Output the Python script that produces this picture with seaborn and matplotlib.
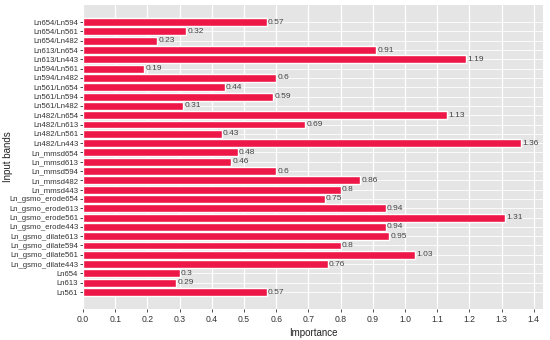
import matplotlib
matplotlib.use("Agg")
import matplotlib.pyplot as plt
import seaborn as sns
import pandas as pd

bands = [
    "Ln654/Ln594", "Ln654/Ln561", "Ln654/Ln482", "Ln613/Ln654", "Ln613/Ln443",
    "Ln594/Ln561", "Ln594/Ln482", "Ln561/Ln654", "Ln561/Ln594", "Ln561/Ln482",
    "Ln482/Ln654", "Ln482/Ln613", "Ln482/Ln561", "Ln482/Ln443",
    "Ln_mmsd654", "Ln_mmsd613", "Ln_mmsd594", "Ln_mmsd482", "Ln_mmsd443",
    "Ln_gsmo_erode654", "Ln_gsmo_erode613", "Ln_gsmo_erode561", "Ln_gsmo_erode443",
    "Ln_gsmo_dilate613", "Ln_gsmo_dilate594", "Ln_gsmo_dilate561", "Ln_gsmo_dilate443",
    "Ln654", "Ln613", "Ln561",
]
importance = [
    0.57, 0.32, 0.23, 0.91, 1.19,
    0.19, 0.6, 0.44, 0.59, 0.31,
    1.13, 0.69, 0.43, 1.36,
    0.48, 0.46, 0.6, 0.86, 0.8,
    0.75, 0.94, 1.31, 0.94,
    0.95, 0.8, 1.03, 0.76,
    0.3, 0.29, 0.57,
]

df = pd.DataFrame({"band": bands, "importance": importance})

sns.set_theme(style="darkgrid")
plt.rcParams["font.family"] = ["Liberation Sans", "DejaVu Sans"]

fig, ax = plt.subplots(figsize=(5.5, 3.4), dpi=100)
ax.set_facecolor("#E5E5E5")
sns.barplot(data=df, x="importance", y="band", order=bands, color="#EE1848",
            saturation=1, width=0.85, ax=ax)

for p, v in zip(ax.patches, importance):
    ax.text(p.get_width() + 0.004, p.get_y() + p.get_height() / 2, f"{v:g}",
            va="center", ha="left", fontsize=6, color="#444444")

n = len(bands)
ax.set_xlim(0, 1.428)
ax.set_ylim(n - 1 + 1.83, -1.83)
ax.set_xticks([i / 10 for i in range(15)])
ax.set_xticklabels([f"{i / 10:.1f}" for i in range(15)])
ax.grid(True, axis="x", color="white", linewidth=0.9)
ax.grid(True, axis="y", color="white", linewidth=0.6)
ax.set_axisbelow(True)
ax.tick_params(axis="y", labelsize=5.6, pad=1)
ax.tick_params(axis="x", labelsize=6.2, pad=2)
ax.tick_params(axis="both", colors="#333333", length=2.5, width=0.6,
               left=True, bottom=True)
for s in ax.spines.values():
    s.set_visible(False)

ax.set_xlabel("Importance", fontsize=7, color="#222222", labelpad=3)
ax.set_ylabel("Input bands", fontsize=7, color="#222222")
ax.yaxis.set_label_coords(-0.152, 0.5)

fig.subplots_adjust(left=0.151, right=0.987, top=0.985, bottom=0.091)
fig.savefig("out.png", dpi=100)
